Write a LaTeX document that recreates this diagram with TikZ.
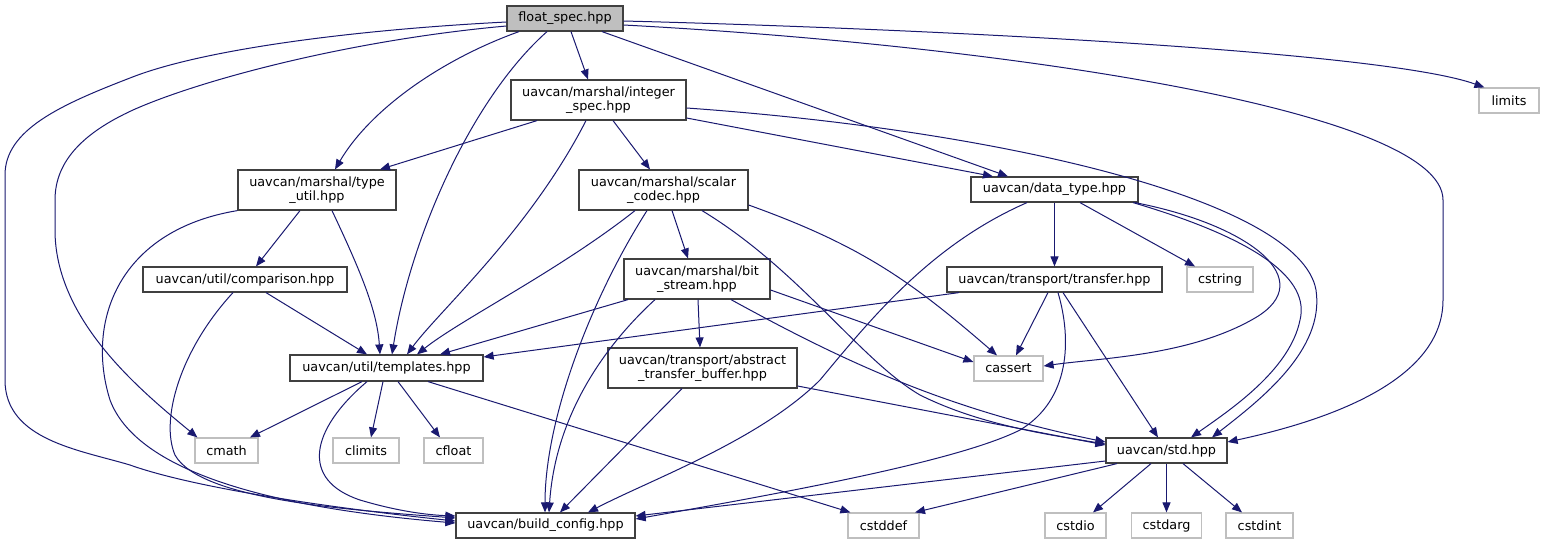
\documentclass[tikz,border=0pt]{standalone}
\usepackage{fontspec}
\setmainfont{DejaVu Sans}
\usetikzlibrary{arrows.meta}
\definecolor{edgecol}{HTML}{191970}
\definecolor{boxdark}{HTML}{404040}
\definecolor{boxlight}{HTML}{BFBFBF}
\definecolor{fsfill}{HTML}{BFBFBF}
\newcommand\dgfont{\fontsize{12.8}{14.5}\selectfont}
\tikzset{
  hdr/.style={draw=boxdark, line width=1.2pt, fill=white, inner sep=0pt, align=center, font=\dgfont, text=black},
  sys/.style={draw=boxlight, line width=1.2pt, fill=white, inner sep=0pt, align=center, font=\dgfont, text=black},
  dep/.style={draw=edgecol, line width=1pt, -{Triangle[length=10pt,width=8pt]}},
}
\begin{document}
\begin{tikzpicture}[x=1pt,y=-1pt]
\useasboundingbox[fill=white] (0,0) rectangle (1544,544);
% nodes
\node[hdr, fill=fsfill, minimum width=116pt, minimum height=25pt] (fs) at (565,18.5) {float\_spec.hpp};
\node[hdr, minimum width=175pt, minimum height=40pt] (is) at (598.5,100) {uavcan/marshal/integer\\\_spec.hpp};
\node[hdr, minimum width=158pt, minimum height=40pt] (tu) at (317,190) {uavcan/marshal/type\\\_util.hpp};
\node[hdr, minimum width=169pt, minimum height=40pt] (sc) at (663.5,190) {uavcan/marshal/scalar\\\_codec.hpp};
\node[hdr, minimum width=167pt, minimum height=25pt] (dt) at (1054.5,189.5) {uavcan/data\_type.hpp};
\node[sys, minimum width=60pt, minimum height=25pt] (lim) at (1509,100.5) {limits};
\node[hdr, minimum width=204pt, minimum height=25pt] (cmp) at (245,279.5) {uavcan/util/comparison.hpp};
\node[hdr, minimum width=146pt, minimum height=40pt] (bs) at (697,279) {uavcan/marshal/bit\\\_stream.hpp};
\node[hdr, minimum width=215pt, minimum height=25pt] (tr) at (1054.5,279.5) {uavcan/transport/transfer.hpp};
\node[sys, minimum width=66pt, minimum height=25pt] (cstr) at (1220,279.5) {cstring};
\node[hdr, minimum width=193pt, minimum height=26pt] (tpl) at (386.5,368) {uavcan/util/templates.hpp};
\node[hdr, minimum width=189pt, minimum height=40pt] (atb) at (702.5,368) {uavcan/transport/abstract\\\_transfer\_buffer.hpp};
\node[sys, minimum width=69pt, minimum height=25pt] (cas) at (1008.5,368.5) {cassert};
\node[sys, minimum width=63pt, minimum height=25pt] (cmath) at (226.5,450.5) {cmath};
\node[sys, minimum width=66pt, minimum height=25pt] (clim) at (366,450.5) {climits};
\node[sys, minimum width=59pt, minimum height=25pt] (cfl) at (453.5,450.5) {cfloat};
\node[hdr, minimum width=121pt, minimum height=25pt] (std) at (1166.5,450.5) {uavcan/std.hpp};
\node[hdr, minimum width=179pt, minimum height=25pt] (bc) at (545.5,525.5) {uavcan/build\_config.hpp};
\node[sys, minimum width=71pt, minimum height=25pt] (cdef) at (883.5,525.5) {cstddef};
\node[sys, minimum width=61pt, minimum height=25pt] (cio) at (1075.5,525.5) {cstdio};
\node[sys, minimum width=70pt, minimum height=25pt] (carg) at (1166.5,525.5) {cstdarg};
\node[sys, minimum width=67pt, minimum height=25pt] (cint) at (1259.5,525.5) {cstdint};
% edges from float_spec
\draw[dep] ([yshift=-3.5pt]fs.west) .. controls (350,30) and (200,50) .. (130,78) .. controls (60,105) and (5,130) .. (5,175) -- (5,380) .. controls (5,440) and (80,450) .. (130,465) .. controls (200,490) and (350,510) .. ([yshift=4.5pt]bc.west);
\draw[dep] ([yshift=-7.5pt]fs.west) .. controls (350,40) and (200,80) .. (133,110) .. controls (85,132) and (55,160) .. (55,200) -- (55,230) .. controls (55,320) and (140,390) .. ([xshift=3pt]cmath.north west);
\draw[dep] ([xshift=-46pt]fs.south) .. controls (440,60) and (370,110) .. ([xshift=18pt]tu.north);
\draw[dep] ([xshift=-18pt]fs.south) .. controls (470,100) and (410,240) .. ([xshift=5.5pt]tpl.north);
\draw[dep] ([xshift=6pt]fs.south) -- ([xshift=-10.5pt]is.north);
\draw[dep] ([xshift=37pt]fs.south) -- ([xshift=-46.5pt]dt.north);
\draw[dep] ([yshift=-2.5pt]fs.east) .. controls (900,28) and (1380,50) .. ([xshift=6pt]lim.north west);
\draw[dep] ([yshift=-6.5pt]fs.east) .. controls (1000,45) and (1443,110) .. (1443,200) -- (1443,300) .. controls (1443,380) and (1330,420) .. ([yshift=8.5pt]std.east);
% integer_spec
\draw[dep] ([xshift=-61.5pt]is.south) -- ([xshift=63pt]tu.north);
\draw[dep] ([xshift=-12.5pt]is.south) .. controls (530,230) and (440,310) .. ([xshift=20.5pt]tpl.north);
\draw[dep] ([xshift=14.5pt]is.south) -- ([xshift=-13.5pt]sc.north);
\draw[dep] ([yshift=-18pt]is.east) -- ([xshift=-61.5pt]dt.north);
\draw[dep] ([yshift=-8pt]is.east) .. controls (1000,130) and (1300,200) .. (1316,290) .. controls (1325,350) and (1260,400) .. ([xshift=45.5pt]std.north);
% type_util
\draw[dep] ([xshift=-17pt]tu.south) -- ([xshift=11pt]cmp.north);
\draw[dep] ([xshift=15pt]tu.south) .. controls (360,270) and (377,310) .. ([xshift=-6.5pt]tpl.north);
\draw[dep] (tu.south west) .. controls (120,230) and (85,320) .. (110,400) .. controls (140,480) and (300,510) .. ([yshift=2.5pt]bc.west);
% comparison
\draw[dep] ([xshift=21pt]cmp.south) -- ([xshift=-19.5pt]tpl.north);
\draw[dep] ([xshift=-12pt]cmp.south) .. controls (180,350) and (160,420) .. (175,455) .. controls (200,500) and (350,510) .. ([yshift=7.5pt]bc.west);
% scalar_codec
\draw[dep] ([xshift=-28.5pt]sc.south) .. controls (560,270) and (460,320) .. ([xshift=30.5pt]tpl.north);
\draw[dep] ([xshift=-16.5pt]sc.south) .. controls (590,300) and (545,420) .. ([xshift=-0.5pt]bc.north);
\draw[dep] ([xshift=8.5pt]sc.south) -- ([xshift=-9pt]bs.north);
\draw[dep] ([xshift=38.5pt]sc.south) .. controls (800,270) and (860,360) .. (920,395) .. controls (980,425) and (1050,435) .. ([yshift=6.5pt]std.west);
\draw[dep] ([yshift=-15pt]sc.east) .. controls (860,245) and (910,280) .. ([xshift=-11.5pt]cas.north);
% bit_stream
\draw[dep] ([xshift=-69pt]bs.south) -- ([xshift=53.5pt]tpl.north);
\draw[dep] ([xshift=-42pt]bs.south) .. controls (600,350) and (555,420) .. ([xshift=3.5pt]bc.north);
\draw[dep] ([xshift=1pt]bs.south) -- ([xshift=-2.5pt]atb.north);
\draw[dep] ([xshift=34pt]bs.south) .. controls (850,365) and (950,410) .. ([yshift=8.5pt]std.west);
\draw[dep] ([yshift=-11pt]bs.east) -- ([yshift=6.5pt]cas.west);
% abstract_transfer_buffer
\draw[dep] ([xshift=-20.5pt]atb.south) -- ([xshift=14.5pt]bc.north);
\draw[dep] ([yshift=-18pt]atb.east) -- ([yshift=5.5pt]std.west);
% data_type
\draw[dep] (dt.south) -- (tr.north);
\draw[dep] ([xshift=25.5pt]dt.south) -- ([xshift=-25pt]cstr.north);
\draw[dep] ([xshift=-27.5pt]dt.south) .. controls (930,245) and (870,320) .. (820,380) .. controls (760,440) and (650,480) .. ([xshift=42.5pt]bc.north);
\draw[dep] ([xshift=80.5pt]dt.south) .. controls (1250,225) and (1320,280) .. (1255,318) .. controls (1190,356) and (1100,358) .. ([yshift=2.5pt]cas.east);
\draw[dep] ([xshift=78.5pt]dt.south) .. controls (1260,240) and (1310,280) .. (1300,320) .. controls (1290,370) and (1230,410) .. ([xshift=24.5pt]std.north);
% transfer
\draw[dep] ([xshift=-95.5pt]tr.south) -- ([yshift=11pt]tpl.east);
\draw[dep] ([xshift=-6.5pt]tr.south) -- ([xshift=7.5pt]cas.north);
\draw[dep] ([xshift=8.5pt]tr.south) -- ([xshift=-8.5pt]std.north);
\draw[dep] ([xshift=3.5pt]tr.south) .. controls (1072,340) and (1070,400) .. (1020,430) .. controls (960,460) and (800,490) .. ([yshift=6.5pt]bc.east);
% std
\draw[dep] ([yshift=-10.5pt]std.west) -- ([yshift=9.5pt]bc.east);
\draw[dep] ([xshift=-49.5pt]std.south) -- ([xshift=31.5pt]cdef.north);
\draw[dep] ([xshift=-15.5pt]std.south) -- ([xshift=17.5pt]cio.north);
\draw[dep] (std.south) -- (carg.north);
\draw[dep] ([xshift=16.5pt]std.south) -- ([xshift=-17.5pt]cint.north);
% templates
\draw[dep] ([xshift=-24.5pt]tpl.south) -- ([xshift=23.5pt]cmath.north);
\draw[dep] ([xshift=-19.5pt]tpl.south) .. controls (310,430) and (300,480) .. (360,500) .. controls (400,512) and (430,515) .. ([yshift=9.5pt]bc.west);
\draw[dep] ([xshift=-3.5pt]tpl.south) -- ([xshift=5pt]clim.north);
\draw[dep] ([xshift=11.5pt]tpl.south) -- ([xshift=-13.5pt]cfl.north);
\draw[dep] ([xshift=41.5pt]tpl.south) -- ([xshift=3pt]cdef.north west);
\end{tikzpicture}
\end{document}
